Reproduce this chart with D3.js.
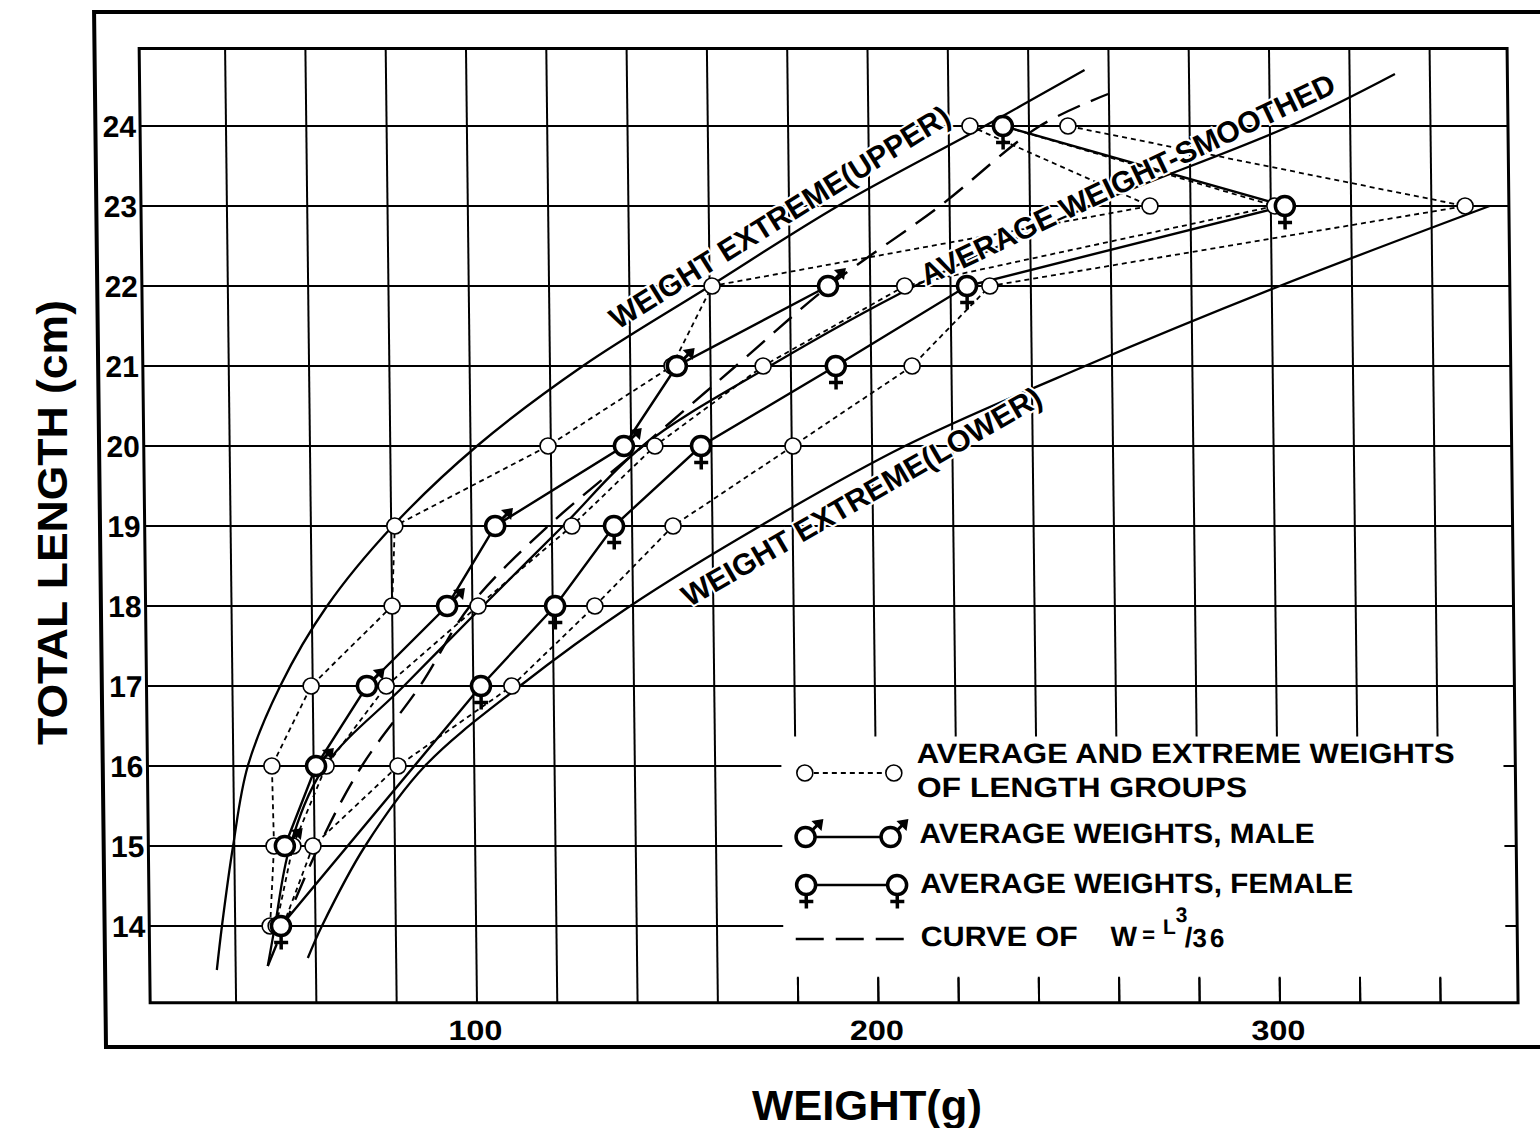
<!DOCTYPE html>
<html><head><meta charset="utf-8">
<script src="https://cdn.jsdelivr.net/npm/d3@7"></script>
<style>
html,body{margin:0;padding:0;background:#fff;}
svg{display:block;}
text{font-family:"Liberation Sans",Arial,Helvetica,sans-serif;font-weight:bold;fill:#000;}
</style></head><body>
<svg id="chart" width="1540" height="1128"></svg>
<script>
// Length groups (cm) and weights (g) of each group: lightest, mean, heaviest
const lengthGroups   = [14, 15, 16, 17, 18, 19, 20, 21, 22, 23, 24];
const groupMinWeight = [48.7, 49.9, 49.6, 59.6, 80.0, 80.9, 119.3, 150.4, 160.6, 269.9, 225.3];
const groupAvgWeight = [50.2, 54.6, 63.1, 78.3, 101.4, 125.0, 145.9, 173.1, 208.6, 301.0, 233.5];
const groupMaxWeight = [51.9, 59.6, 81.0, 109.6, 130.5, 150.2, 180.3, 210.2, 229.8, 348.4, 249.7];

// Mean weights by sex
const maleLength   = [15, 16, 17, 18, 19, 20, 21, 22];
const maleWeight   = [52.6, 60.6, 73.5, 93.7, 105.9, 138.2, 151.6, 189.5];
const femaleLength = [14, 17, 18, 19, 20, 21, 22, 23, 24];
const femaleWeight = [51.4, 101.9, 120.6, 135.5, 157.4, 191.2, 224.1, 303.5, 233.5];

// Fitted curves (length cm, weight g)
const upperLength  = [13.45, 14, 15, 16, 17, 18, 19, 20, 21, 22, 23, 24, 24.7];
const upperWeight  = [35.3, 36.7, 39.7, 43.6, 51.9, 63.8, 80.4, 101.6, 128.2, 160.1, 192.2, 229, 254];
const smoothLength = [13.5, 14, 15, 16, 17, 18, 19, 20, 21, 22, 23, 24, 24.65];
const smoothWeight = [48, 49.9, 53.9, 62.8, 82.7, 102.6, 122.8, 142.9, 174.8, 211.1, 255, 305, 331.3];
const lowerLength  = [13.6, 14, 15, 16, 17, 18, 19, 20, 21, 22, 23];
const lowerWeight  = [58, 61.6, 72.6, 87.7, 111.6, 139.3, 171.9, 208.2, 253.3, 302, 354.5];
const cubeLength   = [13.5, 15, 16, 17, 18, 19, 20, 21, 22, 23, 24, 24.4];
const cubeWeight   = [48.0, 61.1, 72.0, 86.7, 99.4, 119.1, 142.9, 166.3, 189.7, 217.6, 242.7, 259.8];

// Axes
const xTickLabels = [100, 200, 300];
const xGridValues = [40, 60, 80, 100, 120, 140, 160, 180, 200, 220, 240, 260, 280, 300, 320, 340];
const yTickLabels = [14, 15, 16, 17, 18, 19, 20, 21, 22, 23, 24];
const weightDomain = [18.6, 359.3];
const lengthDomain = [13.04, 24.97];

// the printed sheet leans slightly: shear everything about the chart's middle row
const shear = 0.01152, shearRow = 527;
const root = d3.select("#chart");
const svg = root.append("g")
  .attr("transform", `translate(${-shear * shearRow},0) skewX(${Math.atan(shear) * 180 / Math.PI})`);

const x = d3.scaleLinear().domain([100, 300]).range([471.5, 1274.5]);
const y = d3.scaleLinear().domain([14, 24]).range([926, 126]);
const X0 = x(weightDomain[0]), X1 = x(weightDomain[1]);
const Y0 = y(lengthDomain[0]), Y1 = y(lengthDomain[1]);

// outer frame
svg.append("rect").attr("x", 100).attr("y", 12).attr("width", 1480).attr("height", 1035)
  .attr("fill", "none").attr("stroke", "#000").attr("stroke-width", 4);

// grid
const grid = svg.append("g").attr("stroke", "#000").attr("stroke-width", 2);
grid.selectAll("line.v").data(xGridValues).join("line").attr("class", "v")
  .attr("x1", d => x(d)).attr("x2", d => x(d)).attr("y1", Y1).attr("y2", Y0);
grid.selectAll("line.h").data(yTickLabels).join("line").attr("class", "h")
  .attr("x1", X0).attr("x2", X1).attr("y1", d => y(d)).attr("y2", d => y(d));
svg.append("rect").attr("x", X0).attr("y", Y1).attr("width", X1 - X0).attr("height", Y0 - Y1)
  .attr("fill", "none").attr("stroke", "#000").attr("stroke-width", 3);

// tick labels
svg.append("g").selectAll("text").data(yTickLabels).join("text")
  .attr("x", X0 - 4).attr("y", d => y(d) + 11).attr("text-anchor", "end")
  .attr("font-size", 30).text(d => d);
svg.append("g").selectAll("text").data(xTickLabels).join("text")
  .attr("x", d => x(d) - 2).attr("y", Y0 + 37).attr("text-anchor", "middle")
  .attr("font-size", 28).attr("textLength", 54).attr("lengthAdjust", "spacingAndGlyphs")
  .text(d => d);

// axis titles
root.append("text").attr("transform", "translate(67,745) rotate(-90)")
  .attr("font-size", 42).attr("textLength", 445).attr("lengthAdjust", "spacingAndGlyphs")
  .text("TOTAL LENGTH (cm)");
root.append("text").attr("x", 752).attr("y", 1120)
  .attr("font-size", 42).attr("textLength", 230).attr("lengthAdjust", "spacingAndGlyphs")
  .text("WEIGHT(g)");

const pts = (ls, ws) => ls.map((l, i) => [ws[i], l]);
const lineFn = d3.line().x(d => x(d[0])).y(d => y(d[1]));
const curveFn = d3.line().x(d => x(d[0])).y(d => y(d[1])).curve(d3.curveCatmullRom.alpha(0.5));

const marks = svg.append("g");
// fitted curves
marks.append("path").attr("d", curveFn(pts(upperLength, upperWeight)))
  .attr("fill", "none").attr("stroke", "#000").attr("stroke-width", 2.3);
marks.append("path").attr("d", curveFn(pts(lowerLength, lowerWeight)))
  .attr("fill", "none").attr("stroke", "#000").attr("stroke-width", 2.3);
marks.append("path").attr("d", curveFn(pts(smoothLength, smoothWeight)))
  .attr("fill", "none").attr("stroke", "#000").attr("stroke-width", 2.3);
marks.append("path").attr("d", curveFn(pts(cubeLength, cubeWeight)))
  .attr("fill", "none").attr("stroke", "#000").attr("stroke-width", 2.4)
  .attr("stroke-dasharray", "24,12");

// group lines (dashed)
[groupMinWeight, groupAvgWeight, groupMaxWeight].forEach(ws => {
  marks.append("path").attr("d", lineFn(pts(lengthGroups, ws)))
    .attr("fill", "none").attr("stroke", "#000").attr("stroke-width", 1.8)
    .attr("stroke-dasharray", "5,4");
});
// sex lines
marks.append("path").attr("d", lineFn(pts(maleLength, maleWeight)))
  .attr("fill", "none").attr("stroke", "#000").attr("stroke-width", 2.4);
marks.append("path").attr("d", lineFn(pts(femaleLength, femaleWeight)))
  .attr("fill", "none").attr("stroke", "#000").attr("stroke-width", 2.4);

// symbols
function smallCircle(g, cx, cy) {
  g.append("circle").attr("cx", cx).attr("cy", cy).attr("r", 8)
    .attr("fill", "#fff").attr("stroke", "#000").attr("stroke-width", 1.6);
}
function maleSymbol(g, cx, cy) {
  const r = 9.5, a = Math.SQRT1_2;
  g.append("line").attr("x1", cx + r * a).attr("y1", cy - r * a)
    .attr("x2", cx + (r + 8) * a).attr("y2", cy - (r + 8) * a)
    .attr("stroke", "#000").attr("stroke-width", 3);
  const tx = cx + (r + 16) * a, ty = cy - (r + 16) * a;
  g.append("path").attr("d", `M${tx},${ty} L${tx - 12},${ty + 2} L${tx - 2},${ty + 12} Z`).attr("fill", "#000");
  g.append("circle").attr("cx", cx).attr("cy", cy).attr("r", r)
    .attr("fill", "#fff").attr("stroke", "#000").attr("stroke-width", 3.5);
}
function femaleSymbol(g, cx, cy) {
  const r = 9.5;
  g.append("line").attr("x1", cx).attr("y1", cy + r).attr("x2", cx).attr("y2", cy + r + 14)
    .attr("stroke", "#000").attr("stroke-width", 3.5);
  g.append("line").attr("x1", cx - 7).attr("y1", cy + r + 7).attr("x2", cx + 7).attr("y2", cy + r + 7)
    .attr("stroke", "#000").attr("stroke-width", 3.5);
  g.append("circle").attr("cx", cx).attr("cy", cy).attr("r", r)
    .attr("fill", "#fff").attr("stroke", "#000").attr("stroke-width", 3.5);
}

const sym = svg.append("g");
[groupMinWeight, groupAvgWeight, groupMaxWeight].forEach(ws =>
  ws.forEach((w, i) => smallCircle(sym, x(w), y(lengthGroups[i]))));
maleWeight.forEach((w, i) => maleSymbol(sym, x(w), y(maleLength[i])));
femaleWeight.forEach((w, i) => femaleSymbol(sym, x(w), y(femaleLength[i])));

// curve labels
function curveLabel(text, from, to, size) {
  const x1 = x(from[0]), y1 = y(from[1]), x2 = x(to[0]), y2 = y(to[1]);
  const ang = Math.atan2(y2 - y1, x2 - x1) * 180 / Math.PI;
  const len = Math.hypot(x2 - x1, y2 - y1);
  svg.append("text").attr("transform", `translate(${x1},${y1}) rotate(${ang})`)
    .attr("font-size", size).attr("textLength", len).attr("lengthAdjust", "spacingAndGlyphs")
    .attr("stroke", "#fff").attr("stroke-width", 4).attr("paint-order", "stroke")
    .text(text);
}
curveLabel("WEIGHT  EXTREME(UPPER)", [137, 21.45], [221, 24.05], 30);
curveLabel("AVERAGE WEIGHT-SMOOTHED", [214, 22.0], [317, 24.43], 30);
curveLabel("WEIGHT EXTREME(LOWER)", [154, 17.98], [243, 20.53], 30);

// legend (drawn on the sheared plane; offsets keep it where the box sits on the page)
const lg = svg.append("g");
const lx0 = x(176.5), lx1 = x(356.4), ly0 = y(16.37), ly1 = y(13.35);
lg.append("rect").attr("x", lx0).attr("y", ly0).attr("width", lx1 - lx0).attr("height", ly1 - ly0)
  .attr("fill", "#fff");
// stubs where the grid is interrupted by the legend
xGridValues.filter(v => x(v) > lx0 && x(v) < lx1).forEach(v =>
  lg.append("line").attr("x1", x(v)).attr("x2", x(v)).attr("y1", Y0).attr("y2", Y0 - 26)
    .attr("stroke", "#000").attr("stroke-width", 2));
[14, 15, 16].forEach(v =>
  lg.append("line").attr("x1", lx1).attr("x2", X1).attr("y1", y(v)).attr("y2", y(v))
    .attr("stroke", "#000").attr("stroke-width", 2));

const key = lg.append("g").attr("transform", "translate(-4,0)");
key.append("line").attr("x1", 806).attr("x2", 895).attr("y1", 773).attr("y2", 773)
  .attr("stroke", "#000").attr("stroke-width", 1.8).attr("stroke-dasharray", "5,4");
smallCircle(key, 806, 773); smallCircle(key, 895, 773);
key.append("line").attr("x1", 806).attr("x2", 891).attr("y1", 837).attr("y2", 837)
  .attr("stroke", "#000").attr("stroke-width", 2.4);
maleSymbol(key, 806, 837); maleSymbol(key, 891, 837);
key.append("line").attr("x1", 806).attr("x2", 897).attr("y1", 885).attr("y2", 885)
  .attr("stroke", "#000").attr("stroke-width", 2.4);
femaleSymbol(key, 806, 885); femaleSymbol(key, 897, 885);
key.append("line").attr("x1", 795).attr("x2", 903).attr("y1", 939).attr("y2", 939)
  .attr("stroke", "#000").attr("stroke-width", 2.4).attr("stroke-dasharray", "28,12");

const legendText = [
  ["AVERAGE  AND  EXTREME  WEIGHTS", 918, 763, 538],
  ["OF  LENGTH  GROUPS", 918, 797, 330],
  ["AVERAGE  WEIGHTS,  MALE", 920, 843, 395],
  ["AVERAGE  WEIGHTS,  FEMALE", 920, 893, 433],
];
legendText.forEach(([t, tx, ty, tl]) =>
  key.append("text").attr("x", tx).attr("y", ty).attr("font-size", 28)
    .attr("textLength", tl).attr("lengthAdjust", "spacingAndGlyphs").text(t));
key.append("text").attr("x", 920).attr("y", 946).attr("font-size", 28)
  .attr("textLength", 157).attr("lengthAdjust", "spacingAndGlyphs").text("CURVE  OF");
// W = L³/36 as one run of text with raised L and exponent
const formula = key.append("text").attr("x", 1110).attr("y", 946).attr("font-size", 28);
formula.append("tspan").text("W");
formula.append("tspan").attr("font-size", 22).attr("dx", 5).attr("dy", -4).text("=");
formula.append("tspan").attr("font-size", 21).attr("dx", 8).attr("dy", -8).text("L");
formula.append("tspan").attr("font-size", 21).attr("dy", -12).text("3");
formula.append("tspan").attr("dx", -3).attr("dy", 25).text("/");
formula.append("tspan").attr("font-size", 26).attr("letter-spacing", 3).text("36");
</script>
</body></html>
